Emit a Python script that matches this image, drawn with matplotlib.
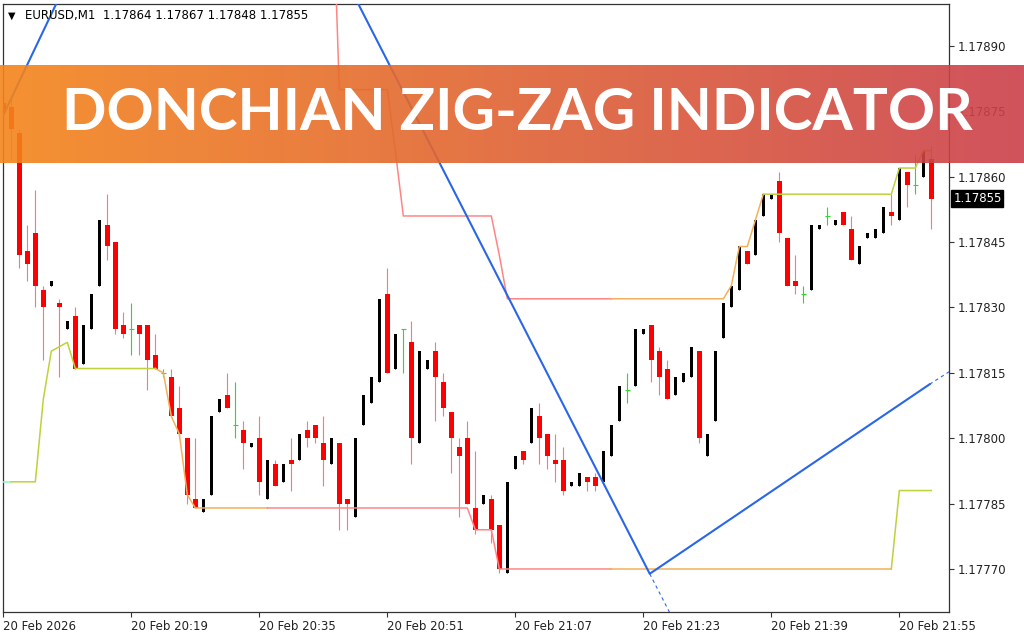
import numpy as np
import matplotlib
matplotlib.use("Agg")
import matplotlib.pyplot as plt
from matplotlib.colors import LinearSegmentedColormap

# EURUSD M1, bar 0 = 20 Feb 20:03
opens = [
    1.17877, 1.17876, 1.17870, 1.17843, 1.17847, 1.17834, 1.17835, 1.17831, 1.17825, 1.17828,
    1.17817, 1.17825, 1.17835, 1.17849, 1.17845, 1.17826, 1.17825, 1.17826, 1.17826, 1.17819,
    1.17815, 1.17814, 1.17807, 1.17800, 1.17786, 1.17783, 1.17787, 1.17806, 1.17810, 1.17803,
    1.17802, 1.17798, 1.17800, 1.17786, 1.17794, 1.17790, 1.17795, 1.17795, 1.17802, 1.17803,
    1.17799, 1.17794, 1.17799, 1.17786, 1.17782, 1.17803, 1.17808, 1.17813, 1.17833, 1.17816,
    1.17825, 1.17822, 1.17799, 1.17816, 1.17820, 1.17813, 1.17806, 1.17798, 1.17800, 1.17784,
    1.17785, 1.17786, 1.17780, 1.17769, 1.17793, 1.17797, 1.17799, 1.17805, 1.17801, 1.17795,
    1.17795, 1.17789, 1.17789, 1.17791, 1.17791, 1.17790, 1.17796, 1.17804, 1.17811, 1.17812,
    1.17824, 1.17826, 1.17820, 1.17816, 1.17810, 1.17813, 1.17814, 1.17820, 1.17796, 1.17804,
    1.17823, 1.17830, 1.17834, 1.17843, 1.17842, 1.17851, 1.17855, 1.17859, 1.17846, 1.17836,
    1.17833, 1.17834, 1.17848, 1.17851, 1.17849, 1.17852, 1.17848, 1.17840, 1.17846, 1.17846,
    1.17847, 1.17852, 1.17850, 1.17861, 1.17858, 1.17860, 1.17864,
]
highs = [
    1.17878, 1.17878, 1.17871, 1.17849, 1.17857, 1.17835, 1.17836, 1.17832, 1.17827, 1.17830,
    1.17826, 1.17833, 1.17850, 1.17856, 1.17845, 1.17829, 1.17831, 1.17826, 1.17826, 1.17824,
    1.17816, 1.17816, 1.17812, 1.17800, 1.17800, 1.17786, 1.17805, 1.17809, 1.17815, 1.17813,
    1.17804, 1.17799, 1.17805, 1.17795, 1.17795, 1.17794, 1.17800, 1.17801, 1.17804, 1.17803,
    1.17805, 1.17800, 1.17799, 1.17786, 1.17800, 1.17810, 1.17814, 1.17832, 1.17839, 1.17824,
    1.17825, 1.17827, 1.17820, 1.17818, 1.17822, 1.17815, 1.17806, 1.17800, 1.17804, 1.17797,
    1.17787, 1.17787, 1.17780, 1.17790, 1.17796, 1.17797, 1.17807, 1.17808, 1.17801, 1.17801,
    1.17798, 1.17790, 1.17792, 1.17791, 1.17792, 1.17797, 1.17803, 1.17812, 1.17815, 1.17825,
    1.17825, 1.17826, 1.17821, 1.17818, 1.17814, 1.17815, 1.17821, 1.17820, 1.17801, 1.17820,
    1.17831, 1.17835, 1.17844, 1.17843, 1.17850, 1.17856, 1.17856, 1.17861, 1.17846, 1.17842,
    1.17835, 1.17849, 1.17849, 1.17853, 1.17850, 1.17852, 1.17851, 1.17844, 1.17847, 1.17848,
    1.17853, 1.17856, 1.17862, 1.17861, 1.17865, 1.17866, 1.17867,
]
lows = [
    1.17874, 1.17864, 1.17839, 1.17836, 1.17830, 1.17818, 1.17835, 1.17814, 1.17825, 1.17816,
    1.17817, 1.17825, 1.17835, 1.17841, 1.17824, 1.17823, 1.17819, 1.17819, 1.17811, 1.17816,
    1.17814, 1.17805, 1.17800, 1.17785, 1.17784, 1.17783, 1.17787, 1.17806, 1.17807, 1.17800,
    1.17793, 1.17798, 1.17787, 1.17786, 1.17789, 1.17790, 1.17788, 1.17795, 1.17798, 1.17799,
    1.17789, 1.17794, 1.17779, 1.17779, 1.17782, 1.17803, 1.17808, 1.17813, 1.17815, 1.17816,
    1.17815, 1.17794, 1.17799, 1.17816, 1.17804, 1.17805, 1.17792, 1.17782, 1.17785, 1.17778,
    1.17785, 1.17776, 1.17769, 1.17769, 1.17793, 1.17794, 1.17799, 1.17794, 1.17793, 1.17790,
    1.17787, 1.17789, 1.17789, 1.17788, 1.17788, 1.17790, 1.17796, 1.17804, 1.17808, 1.17812,
    1.17824, 1.17813, 1.17810, 1.17809, 1.17810, 1.17813, 1.17814, 1.17799, 1.17796, 1.17804,
    1.17823, 1.17830, 1.17834, 1.17840, 1.17842, 1.17851, 1.17855, 1.17845, 1.17835, 1.17833,
    1.17831, 1.17834, 1.17848, 1.17849, 1.17849, 1.17849, 1.17841, 1.17840, 1.17846, 1.17846,
    1.17847, 1.17849, 1.17850, 1.17853, 1.17856, 1.17860, 1.17848,
]
closes = [
    1.17875, 1.17871, 1.17842, 1.17840, 1.17835, 1.17830, 1.17836, 1.17830, 1.17827, 1.17816,
    1.17826, 1.17833, 1.17850, 1.17844, 1.17825, 1.17824, 1.17825, 1.17824, 1.17818, 1.17816,
    1.17815, 1.17805, 1.17801, 1.17787, 1.17784, 1.17786, 1.17805, 1.17809, 1.17807, 1.17803,
    1.17799, 1.17799, 1.17790, 1.17795, 1.17789, 1.17794, 1.17794, 1.17801, 1.17800, 1.17800,
    1.17795, 1.17800, 1.17785, 1.17785, 1.17800, 1.17810, 1.17814, 1.17832, 1.17815, 1.17824,
    1.17825, 1.17800, 1.17820, 1.17818, 1.17814, 1.17807, 1.17800, 1.17796, 1.17785, 1.17779,
    1.17787, 1.17779, 1.17770, 1.17790, 1.17796, 1.17795, 1.17807, 1.17800, 1.17796, 1.17794,
    1.17788, 1.17790, 1.17792, 1.17790, 1.17789, 1.17797, 1.17803, 1.17812, 1.17811, 1.17825,
    1.17825, 1.17818, 1.17814, 1.17809, 1.17814, 1.17815, 1.17821, 1.17800, 1.17801, 1.17820,
    1.17831, 1.17835, 1.17844, 1.17840, 1.17850, 1.17856, 1.17856, 1.17847, 1.17835, 1.17835,
    1.17833, 1.17849, 1.17849, 1.17851, 1.17850, 1.17849, 1.17841, 1.17844, 1.17847, 1.17848,
    1.17853, 1.17851, 1.17862, 1.17858, 1.17858, 1.17866, 1.17855,
]

# Donchian bands (nan = not on chart)
upper_band = [np.nan] * 40 + [
    1.17935, 1.17935, 1.17880, 1.17880, 1.17880, 1.17880, 1.17880, 1.17880, 1.17880, 1.17866,
    1.17851, 1.17851, 1.17851, 1.17851, 1.17851, 1.17851, 1.17851, 1.17851, 1.17851, 1.17851,
    1.17851, 1.17851, 1.17842, 1.17832, 1.17832, 1.17832, 1.17832, 1.17832, 1.17832, 1.17832,
    1.17832, 1.17832, 1.17832, 1.17832, 1.17832, 1.17832, 1.17832, 1.17832, 1.17832, 1.17832,
    1.17832, 1.17832, 1.17832, 1.17832, 1.17832, 1.17832, 1.17832, 1.17832, 1.17832, 1.17832,
    1.17832, 1.17835, 1.17844, 1.17844, 1.17850, 1.17856, 1.17856, 1.17856, 1.17856, 1.17856,
    1.17856, 1.17856, 1.17856, 1.17856, 1.17856, 1.17856, 1.17856, 1.17856, 1.17856, 1.17856,
    1.17856, 1.17856, 1.17862, 1.17862, 1.17862, 1.17866, 1.17866,
]
lower_band = [
    1.17790, 1.17790, 1.17790, 1.17790, 1.17790, 1.17809, 1.17820, 1.17821, 1.17822, 1.17816,
    1.17816, 1.17816, 1.17816, 1.17816, 1.17816, 1.17816, 1.17816, 1.17816, 1.17816, 1.17816,
    1.17815, 1.17805, 1.17801, 1.17787, 1.17784, 1.17784, 1.17784, 1.17784, 1.17784, 1.17784,
    1.17784, 1.17784, 1.17784, 1.17784, 1.17784, 1.17784, 1.17784, 1.17784, 1.17784, 1.17784,
    1.17784, 1.17784, 1.17784, 1.17784, 1.17784, 1.17784, 1.17784, 1.17784, 1.17784, 1.17784,
    1.17784, 1.17784, 1.17784, 1.17784, 1.17784, 1.17784, 1.17784, 1.17784, 1.17784, 1.17779,
    1.17779, 1.17779, 1.17770, 1.17770, 1.17770, 1.17770, 1.17770, 1.17770, 1.17770, 1.17770,
    1.17770, 1.17770, 1.17770, 1.17770, 1.17770, 1.17770, 1.17770, 1.17770, 1.17770, 1.17770,
    1.17770, 1.17770, 1.17770, 1.17770, 1.17770, 1.17770, 1.17770, 1.17770, 1.17770, 1.17770,
    1.17770, 1.17770, 1.17770, 1.17770, 1.17770, 1.17770, 1.17770, 1.17770, 1.17770, 1.17770,
    1.17770, 1.17770, 1.17770, 1.17770, 1.17770, 1.17770, 1.17770, 1.17770, 1.17770, 1.17770,
    1.17770, 1.17770, 1.17788, 1.17788, 1.17788, 1.17788, 1.17788,
]

# zig-zag swing line (bar position, price), plus dashed projections
zz_bar = [-1.0, 24.8, 80.8, 115.8]
zz_price = [1.178703, 1.179699, 1.177689, 1.178124]
proj_down_bar = [80.8, 83.6]
proj_down_price = [1.177689, 1.177589]
proj_up_bar = [115.8, 118.6]
proj_up_price = [1.178124, 1.178157]

y_ticks = [1.17770, 1.17785, 1.17800, 1.17815, 1.17830, 1.17845, 1.17860, 1.17875, 1.17890]
x_tick_bars = [0, 16, 32, 48, 64, 80, 96, 112]
x_tick_labels = ["20 Feb 2026", "20 Feb 20:19", "20 Feb 20:35", "20 Feb 20:51",
                 "20 Feb 21:07", "20 Feb 21:23", "20 Feb 21:39", "20 Feb 21:55"]
header = "EURUSD,M1  1.17864 1.17867 1.17848 1.17855"
last_price = 1.17855
title = "DONCHIAN ZIG-ZAG INDICATOR"

SALMON = "#ff8585"
ORANGE = "#f2b05a"
YGREEN = "#bfd13c"
AQUA = "#8ef2c4"
upper_segments = [(40, 76, SALMON), (76, 95, ORANGE), (95, 116, YGREEN)]
lower_segments = [(0, 1, AQUA), (1, 19, YGREEN), (19, 33, ORANGE), (33, 76, SALMON),
                  (76, 111, ORANGE), (111, 116, YGREEN)]

W, H = 1024, 640
fig = plt.figure(figsize=(W / 100, H / 100), dpi=100)
ax = fig.add_axes([3 / W, 1 - 612 / H, 946 / W, 608 / H])

x = np.arange(len(opens))
o, h, l, c = (np.array(v) for v in (opens, highs, lows, closes))
diff = np.round((c - o) * 1e5)
up, dn, dj = diff > 0, diff < 0, diff == 0

# bearish: red body, pale wick
ax.vlines(x[dn], l[dn], h[dn], color="#ff7878", lw=0.8, zorder=2)
ax.bar(x[dn], o[dn] - c[dn], bottom=c[dn], width=0.62, color="#ff0000", lw=0, zorder=3)
# bullish: thin black bar
ax.vlines(x[up], l[up], h[up], color="black", lw=0.8, zorder=2)
ax.bar(x[up], c[up] - o[up], bottom=o[up], width=0.34, color="black", lw=0, zorder=3)
# doji: green cross
ax.vlines(x[dj], l[dj], h[dj], color="#22e022", lw=0.8, zorder=3)
ax.hlines(o[dj], x[dj] - 0.32, x[dj] + 0.32, color="#22e022", lw=0.8, zorder=3)

ub = np.array(upper_band)
lb = np.array(lower_band)
for a, b, col in upper_segments:
    ax.plot(x[a:b + 1], ub[a:b + 1], color=col, lw=1.1, zorder=4)
for a, b, col in lower_segments:
    ax.plot(x[a:b + 1], lb[a:b + 1], color=col, lw=1.1, zorder=4)

BLUE = "#2a66e8"
ax.plot(zz_bar, zz_price, color=BLUE, lw=1.5, zorder=5)
ax.plot(proj_down_bar, proj_down_price, color=BLUE, lw=0.8, ls=(0, (3, 3)), zorder=5)
ax.plot(proj_up_bar, proj_up_price, color=BLUE, lw=0.8, ls=(0, (3, 3)), zorder=5)

ax.set_xlim(-0.04, 118.21)
ax.set_ylim(1.1776013, 1.1789964)

ax.yaxis.tick_right()
ax.set_yticks(y_ticks)
ax.set_yticklabels([f"{v:.5f}" for v in y_ticks])
ax.set_xticks(x_tick_bars)
ax.set_xticklabels(x_tick_labels)
for lab in ax.get_xticklabels():
    lab.set_horizontalalignment("left")
ax.tick_params(axis="both", direction="out", length=3.5, width=0.8, color="#333333",
               labelsize=8.5, labelcolor="#222222")
ax.tick_params(axis="y", pad=3)
ax.tick_params(axis="x", pad=2)
for s in ax.spines.values():
    s.set_color("#333333")
    s.set_linewidth(0.9)

# last price marker on the price scale
ax.text(1.0045, last_price, f"{last_price:.5f}", transform=ax.get_yaxis_transform(),
        ha="left", va="center", fontsize=8.5, color="white", zorder=10, clip_on=False,
        bbox=dict(boxstyle="square,pad=0.15", fc="black", ec="black"))

# chart header
fig.text(8 / W, 1 - 16 / H, "\u25bc", fontsize=7, va="center", ha="left", color="black")
fig.text(25 / W, 1 - 16 / H, header, fontsize=8.5, va="center", ha="left", color="black")

# title banner
bax = fig.add_axes([0, 1 - 163 / H, 1, 98 / H], zorder=20)
cmap = LinearSegmentedColormap.from_list("banner", ["#f4851b", "#cb3f4a"])
bax.imshow(np.linspace(0, 1, 256).reshape(1, -1), aspect="auto", cmap=cmap, alpha=0.9,
           extent=[0, 1, 0, 1])
bax.set_xlim(0, 1)
bax.set_ylim(0, 1)
bax.axis("off")
t = bax.text(517 / W, 0.5, title, ha="center", va="center", color="white",
             fontsize=40, fontfamily="Lato", fontweight="bold")
fig.canvas.draw()
bw = t.get_window_extent().width
t.set_fontsize(40 * 910 / bw)

fig.savefig("out.png", dpi=100)
